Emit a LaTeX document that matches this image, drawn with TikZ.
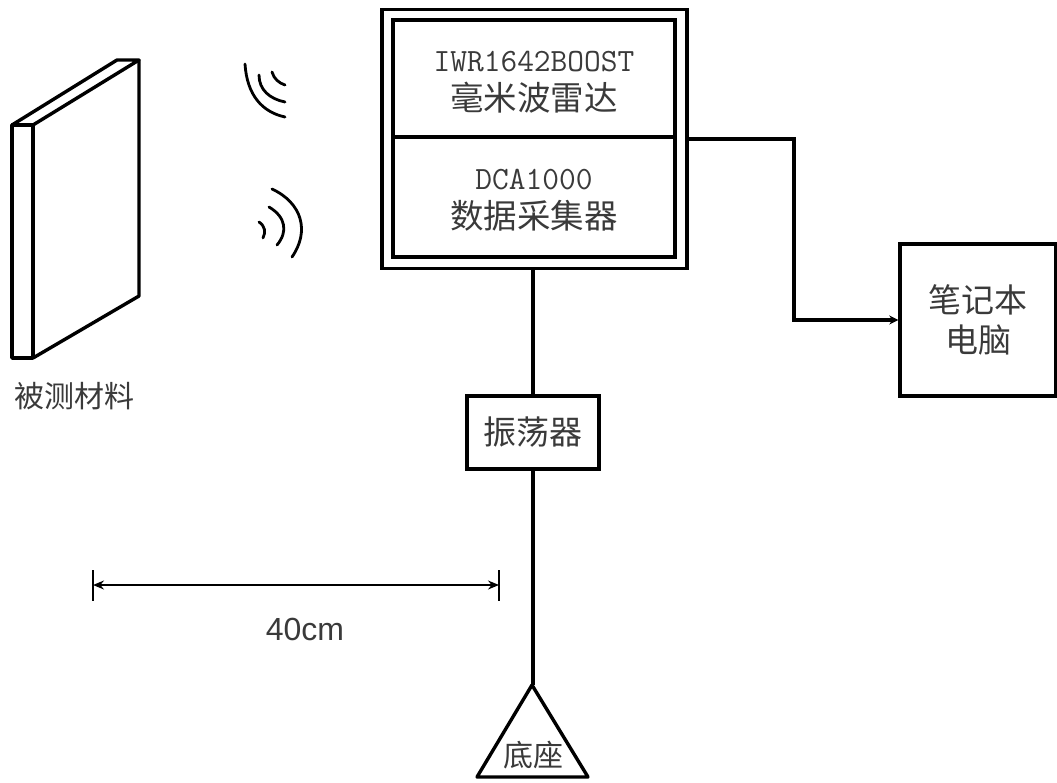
\documentclass[tikz,border=0pt]{standalone}
\usepackage{fontspec}
\usepackage{tikz}
\usetikzlibrary{positioning,arrows.meta,calc}
\newfontfamily\cjkfont{Noto Sans CJK SC}
\newfontfamily\labelfont{Liberation Sans}
\definecolor{inkgray}{HTML}{3A3A3A}
\tikzset{
    wire/.style={draw=black,line width=3.4pt},
    wave/.style={draw=black,line width=2.8pt,line cap=round},
    frame/.style={draw=black,line width=3.2pt,minimum width=305,minimum height=259},
    unit/.style={draw=black,line width=3.6pt,minimum width=282,text=inkgray},
    unittext/.style={align=center,text=inkgray,inner sep=0pt,
        font=\fontsize{32.5}{39}\selectfont\ttfamily},
    device/.style={draw=black,line width=3.4pt,align=center,text=inkgray,
        font=\fontsize{33}{40}\selectfont\cjkfont},
    note/.style={text=inkgray,inner sep=0pt,font=\fontsize{30}{34}\selectfont\cjkfont},
}
\begin{document}
\begin{tikzpicture}[x=1pt,y=-1pt]
    \useasboundingbox (0,0) rectangle (1057,782);

    % sample plate
    \draw[wire,line join=round] (12,125) rectangle (33,358);
    \draw[wire,line join=round] (12,125) -- (117,60) -- (139,60) -- (33,125);
    \draw[wire,line join=round] (139,60) -- (139,296) -- (33,358);
    \node[note] (sample) at (74,396) {被测材料};

    % radar waves
    \draw[wave] (245,64) .. controls (247,95) and (262,112) .. (285,117);
    \draw[wave] (259,75) .. controls (259,90) and (270,99) .. (285,102);
    \draw[wave] (272,72) .. controls (274,79) and (279,83) .. (285,85);
    \draw[wave] (272,189) .. controls (302,203) and (310,231) .. (292,257);
    \draw[wave] (269,207) .. controls (286,217) and (288,232) .. (277,245);
    \draw[wave] (259,222) .. controls (265,226) and (266,232) .. (263,238);

    % radar and collector
    \node[frame] (board) at (534.5,139) {};
    \node[unit,minimum height=117] (radar) at (534,78.5) {};
    \node[unit,minimum height=120] (dca) at (534,197) {};
    \node[unittext] (radarname) at (534,82) {IWR1642BOOST\\{\cjkfont\fontsize{33.5}{39}\selectfont 毫米波雷达}};
    \node[unittext] (dcaname) at (534,200) {DCA1000\\{\cjkfont\fontsize{33.5}{39}\selectfont 数据采集器}};

    \node[device,minimum width=156,minimum height=152] (laptop) at (978,320) {笔记本\\电脑};
    \node[device,minimum width=132,minimum height=73] (shaker) at (533,432.5) {振荡器};

    % stand
    \coordinate (apex) at (532,685);
    \coordinate (footl) at (477,777);
    \coordinate (footr) at (588,777);
    \draw[wire,line join=round] (apex) -- (footl) -- (footr) -- cycle;
    \node[note] (stand) at (533,755) {底座};

    \coordinate (elbow) at (794,320);
    \draw[wire,-{Stealth[length=9pt,width=9pt]}] (board.east) -| (elbow) -- (laptop.west);
    \draw[wire] (board.south -| shaker.north) -- (shaker.north);
    \draw[wire] (shaker.south) -- (shaker.south |- apex);

    % distance
    \coordinate (distl) at (93,585);
    \coordinate (distr) at (499,585);
    \draw[line width=1.4pt,{Stealth[length=11pt,width=9pt]}-{Stealth[length=11pt,width=9pt]}] (distl) -- (distr);
    \draw[line width=1.4pt] ($(distl)+(0,-15)$) -- ($(distl)+(0,16)$);
    \draw[line width=1.4pt] ($(distr)+(0,-15)$) -- ($(distr)+(0,16)$);
    \node[inner sep=0pt,text=inkgray,font=\fontsize{32}{36}\selectfont\labelfont] (dist) at (305,629) {40cm};
\end{tikzpicture}
\end{document}
